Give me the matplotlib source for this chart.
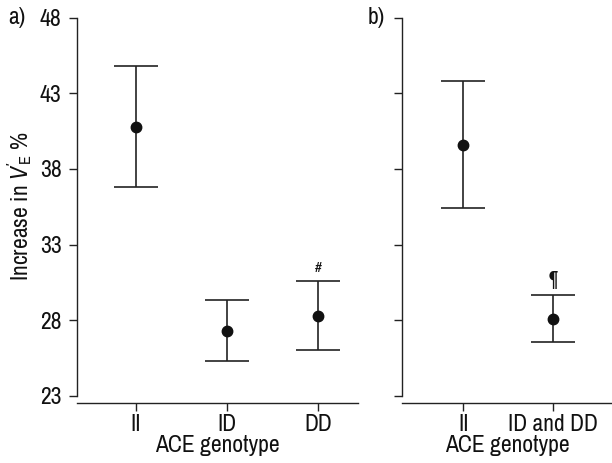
import matplotlib
matplotlib.use("Agg")
import matplotlib.pyplot as plt
from matplotlib import font_manager

names = {f.name for f in font_manager.fontManager.ttflist}
fam = 'Liberation Sans'
for cand in ['Archivo Narrow', 'Liberation Sans Narrow', 'Roboto Condensed', 'Barlow Semi Condensed']:
    if cand in names:
        fam = cand
        break
plt.rcParams['font.family'] = [fam, 'DejaVu Sans']
plt.rcParams['mathtext.fontset'] = 'custom'
plt.rcParams['mathtext.rm'] = fam
plt.rcParams['mathtext.it'] = fam + ':italic'

# Panel a
cats_a = ['II', 'ID', 'DD']
mean_a = [40.8, 27.3, 28.3]
err_a = [4.0, 2.0, 2.3]
# Panel b
cats_b = ['II', 'ID and DD']
mean_b = [39.6, 28.1]
err_b = [4.2, 1.55]
yticks = [23, 28, 33, 38, 43, 48]

fig = plt.figure(figsize=(6.12, 4.63), dpi=100)
W, H = 612, 463
bot = 1 - 395.7 / H
top = 1 - 17.7 / H
axa = fig.add_axes([77 / W, bot, 281 / W, top - bot])
axb = fig.add_axes([402 / W, bot, 210 / W, top - bot])

col = '#222222'
FS = 17
for ax, cats, m, e, xl in [(axa, cats_a, mean_a, err_a, (0.35, 3.44)),
                           (axb, cats_b, mean_b, err_b, (0.32, 2.65))]:
    x = list(range(1, len(cats) + 1))
    ax.errorbar(x, m, yerr=e, fmt='o', color='#111111', ecolor=col,
                elinewidth=1.2, capsize=16, capthick=1.2, markersize=7.5)
    ax.set_xlim(*xl)
    ax.set_ylim(23, 48)
    ax.set_yticks(yticks)
    ax.set_xticks(x)
    ax.set_xticklabels(cats)
    ax.spines['top'].set_visible(False)
    ax.spines['right'].set_visible(False)
    ax.spines['bottom'].set_position(('outward', 5))
    for s in ['left', 'bottom']:
        ax.spines[s].set_linewidth(1.0)
        ax.spines[s].set_color(col)
    ax.tick_params(axis='both', length=5.5, width=1.0, color=col, labelsize=FS,
                   labelcolor='#111111')
    ax.tick_params(axis='y', pad=5.5)
    ax.tick_params(axis='x', pad=3)
    ax.set_xlabel('ACE genotype', fontsize=FS, color='#111111', labelpad=0)
    ax.set_facecolor('none')

axb.set_yticklabels([])
axa.set_ylabel(r'Increase in $\mathit{V}^{\prime}\!_{\mathrm{E}}$ %', fontsize=FS,
               color='#111111')
axa.yaxis.label.set_va('center')
axa.yaxis.set_label_coords(20 / W, 1 - 206 / H, transform=fig.transFigure)

axa.text(3, mean_a[2] + err_a[2] + 0.4, '#', ha='center', va='bottom', fontsize=11, color='#111111')
axb.text(2, mean_b[1] + err_b[1] + 0.4, '¶', ha='center', va='bottom', fontsize=15, color='#111111')

fig.text(8 / W, 1 - 18 / H, 'a)', fontsize=FS, va='center', ha='left', color='#111111')
fig.text(368 / W, 1 - 18 / H, 'b)', fontsize=FS, va='center', ha='left', color='#111111')

fig.savefig('out.png', dpi=100)
